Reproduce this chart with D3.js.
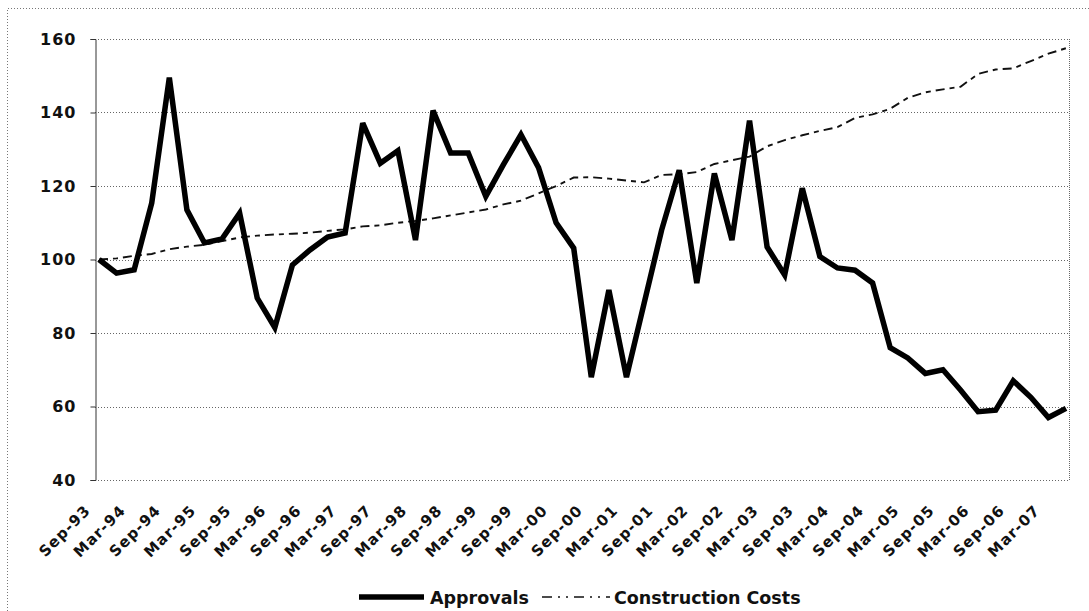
<!DOCTYPE html>
<html>
<head>
<meta charset="utf-8">
<script src="https://cdn.jsdelivr.net/npm/d3@7"></script>
<style>
  body { margin: 0; background: #fff; }
  svg { display: block; font-family: "DejaVu Sans", Verdana, sans-serif; }
</style>
</head>
<body>
<div id="chart"></div>
<script>
// Trimestres (etiquetas del eje X, una de cada dos se muestra)
const quarters = ["Sep-93","Dec-93","Mar-94","Jun-94","Sep-94","Dec-94","Mar-95","Jun-95",
  "Sep-95","Dec-95","Mar-96","Jun-96","Sep-96","Dec-96","Mar-97","Jun-97","Sep-97","Dec-97",
  "Mar-98","Jun-98","Sep-98","Dec-98","Mar-99","Jun-99","Sep-99","Dec-99","Mar-00","Jun-00",
  "Sep-00","Dec-00","Mar-01","Jun-01","Sep-01","Dec-01","Mar-02","Jun-02","Sep-02","Dec-02",
  "Mar-03","Jun-03","Sep-03","Dec-03","Mar-04","Jun-04","Sep-04","Dec-04","Mar-05","Jun-05",
  "Sep-05","Dec-05","Mar-06","Jun-06","Sep-06","Dec-06","Mar-07","Jun-07"];

// Serie: Approvals
const approvals = [100, 96.3, 97.2, 115.4, 149.5, 113.5, 104.5, 105.6, 112.6, 89.5,
  81.5, 98.5, 102.6, 106.1, 107.2, 137.1, 126.2, 129.6, 105.3, 140.5,
  129, 129, 117.2, 125.8, 134, 125, 110, 103.1, 68, 91.7,
  68, 88, 108, 124.3, 93.6, 123.4, 105.3, 137.8, 103.4, 95.8,
  119.4, 100.8, 97.7, 97.1, 93.6, 76, 73.2, 69, 70, 64.5,
  58.6, 59, 67, 62.5, 57, 59.5];

// Serie: Construction Costs
const constructionCosts = [100, 100.3, 101, 101.5, 102.8, 103.5, 104, 105, 106, 106.5,
  106.8, 107, 107.3, 107.8, 108.2, 109, 109.3, 110, 110.5, 111.2,
  112, 112.8, 113.6, 115, 116, 118, 120, 122.3, 122.4, 122,
  121.5, 121, 123, 123.2, 123.8, 126, 127, 128, 130.8, 132.5,
  133.8, 135, 136, 138.5, 139.5, 141, 144, 145.5, 146.3, 147,
  150.5, 151.7, 152, 154, 156, 157.5];

// Marcas del eje Y
const yTicks = [40, 60, 80, 100, 120, 140, 160];

const seriesNames = ["Approvals", "Construction Costs"];

const width = 1089, height = 611;
const plot = { left: 95, right: 1069, top: 39, bottom: 480 };

const svg = d3.select("#chart").append("svg")
  .attr("width", width)
  .attr("height", height);

// Marco exterior punteado
svg.append("path")
  .attr("d", `M7.5,${height} V8.5 H${width}`)
  .attr("fill", "none")
  .attr("stroke", "#777")
  .attr("stroke-width", 1)
  .attr("stroke-dasharray", "1,2");

const x = d3.scalePoint()
  .domain(quarters)
  .range([99, 1066]);

const y = d3.scaleLinear()
  .domain([40, 160])
  .range([plot.bottom, plot.top]);

// Líneas de cuadrícula
svg.append("g")
  .selectAll("line")
  .data(yTicks)
  .enter()
  .append("line")
  .attr("x1", plot.left)
  .attr("x2", plot.right)
  .attr("y1", d => Math.round(y(d)) + 0.5)
  .attr("y2", d => Math.round(y(d)) + 0.5)
  .attr("stroke", "#666")
  .attr("stroke-width", 1)
  .attr("stroke-dasharray", "1,2");

// Borde derecho del área de trazado
svg.append("line")
  .attr("x1", plot.right + 0.5).attr("x2", plot.right + 0.5)
  .attr("y1", plot.top).attr("y2", plot.bottom)
  .attr("stroke", "#666")
  .attr("stroke-dasharray", "1,1");

// Eje Y
const yAxis = d3.axisLeft(y)
  .tickValues(yTicks)
  .tickSize(5)
  .tickPadding(14);

const gy = svg.append("g")
  .attr("transform", `translate(${plot.left + 0.5},0)`)
  .call(yAxis);
gy.select(".domain").attr("stroke", "#333");
gy.selectAll(".tick line").attr("stroke", "#333");
gy.selectAll("text")
  .attr("font-size", "16px")
  .attr("font-weight", "bold")
  .attr("letter-spacing", "1px")
  .attr("fill", "#111")
  .attr("font-family", "DejaVu Sans, Verdana, sans-serif");

// Etiquetas del eje X (cada dos trimestres)
const xLabels = quarters.filter((q, i) => i % 2 === 0);
svg.append("g")
  .selectAll("text")
  .data(xLabels)
  .enter()
  .append("text")
  .attr("transform", d => `translate(${x(d) - 15},${plot.bottom + 24}) rotate(-45)`)
  .attr("text-anchor", "end")
  .attr("dy", "0.7em")
  .attr("font-size", "15px")
  .attr("font-weight", "bold")
  .attr("letter-spacing", "1.1px")
  .attr("fill", "#111")
  .text(d => d);

const line = d3.line()
  .x((d, i) => x(quarters[i]))
  .y(d => y(d));

// Construction Costs (discontinua)
svg.append("path")
  .datum(constructionCosts)
  .attr("d", line)
  .attr("fill", "none")
  .attr("stroke", "#111")
  .attr("stroke-width", 1.9)
  .attr("stroke-dasharray", "9,5,5,5");

// Approvals (gruesa)
svg.append("path")
  .datum(approvals)
  .attr("d", line)
  .attr("fill", "none")
  .attr("stroke", "#000")
  .attr("stroke-width", 5.5)
  .attr("stroke-linejoin", "miter")
  .attr("stroke-miterlimit", 3);

// Leyenda
const legend = svg.append("g").attr("font-size", "17.5px").attr("font-weight", "bold").attr("fill", "#111");
legend.append("line")
  .attr("x1", 359).attr("x2", 424).attr("y1", 597).attr("y2", 597)
  .attr("stroke", "#000").attr("stroke-width", 5.5);
legend.append("text").attr("x", 430).attr("y", 604).text(seriesNames[0]);
legend.append("line")
  .attr("x1", 542).attr("x2", 610).attr("y1", 597).attr("y2", 597)
  .attr("stroke", "#111").attr("stroke-width", 1.6)
  .attr("stroke-dasharray", "10,6,2,6,2,6");
legend.append("text").attr("x", 614).attr("y", 604).text(seriesNames[1]);
</script>
</body>
</html>
